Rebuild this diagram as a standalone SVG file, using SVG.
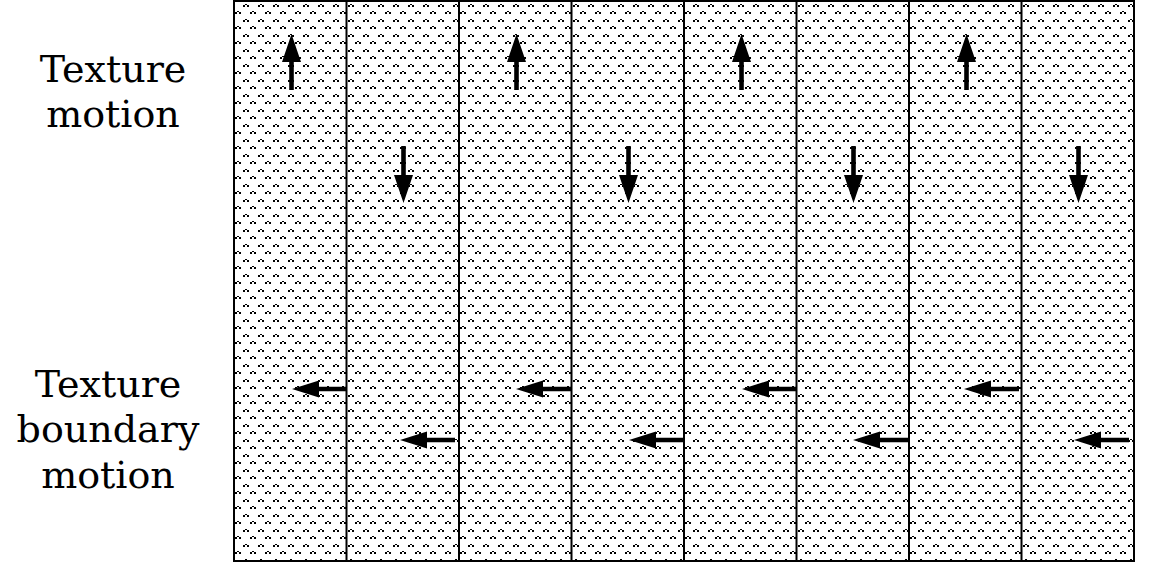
<svg xmlns="http://www.w3.org/2000/svg" width="1156" height="565" viewBox="0 0 1156 565">
  <style>
    .lbl { font-family: "DejaVu Serif", "Liberation Serif", serif; font-size: 38px; fill: #000; text-anchor: middle; }
    .frame { fill: url(#dots); stroke: #000; stroke-width: 2; }
    .div { stroke: #000; stroke-width: 2; }
    .arr { fill: #000; stroke: none; }
  </style>
  <defs>
    <pattern id="dots" patternUnits="userSpaceOnUse" x="234" y="0" width="15" height="15">
      <g fill="#000" shape-rendering="crispEdges">
        <rect x="11" y="4" width="2" height="1"/>
        <rect x="9" y="5" width="2" height="2"/>
        <rect x="13" y="5" width="2" height="2"/>
        <rect x="3" y="11" width="2" height="1"/>
        <rect x="1" y="12" width="2" height="2"/>
        <rect x="5" y="12" width="2" height="2"/>
      </g>
    </pattern>
    <path id="up" d="M -2.3 56 L -2.3 28 L -9.5 28 L 0 0 L 9.5 28 L 2.3 28 L 2.3 56 Z"/>
    <path id="down" d="M -2.3 0 L -2.3 29 L -9.5 29 L 0 57 L 9.5 29 L 2.3 29 L 2.3 0 Z"/>
    <path id="left" d="M 0 0 L 27 -8.5 L 27 -2.3 L 55 -2.3 L 55 2.3 L 27 2.3 L 27 8.5 Z"/>
  </defs>

  <g id="panel">
    <rect class="frame" x="234" y="1" width="900" height="560"/>
  </g>

  <g id="dividers">
    <line class="div" x1="346.5" y1="0" x2="346.5" y2="562"/>
    <line class="div" x1="459" y1="0" x2="459" y2="562"/>
    <line class="div" x1="571.5" y1="0" x2="571.5" y2="562"/>
    <line class="div" x1="684" y1="0" x2="684" y2="562"/>
    <line class="div" x1="796.5" y1="0" x2="796.5" y2="562"/>
    <line class="div" x1="909" y1="0" x2="909" y2="562"/>
    <line class="div" x1="1021.5" y1="0" x2="1021.5" y2="562"/>
  </g>

  <g id="labels">
    <g id="label-texture-motion">
      <text class="lbl" x="113" y="82">Texture</text>
      <text class="lbl" x="113" y="127">motion</text>
    </g>
    <g id="label-boundary-motion">
      <text class="lbl" x="108" y="397">Texture</text>
      <text class="lbl" x="108" y="442">boundary</text>
      <text class="lbl" x="108" y="488">motion</text>
    </g>
  </g>

  <g id="connectors" class="arr">
    <use href="#up" x="291.5" y="34"/>
    <use href="#up" x="516.5" y="34"/>
    <use href="#up" x="741.5" y="34"/>
    <use href="#up" x="966.5" y="34"/>

    <use href="#down" x="403.5" y="146"/>
    <use href="#down" x="628.5" y="146"/>
    <use href="#down" x="853.5" y="146"/>
    <use href="#down" x="1078.5" y="146"/>

    <use href="#left" x="292" y="389"/>
    <use href="#left" x="516" y="389"/>
    <use href="#left" x="742" y="389"/>
    <use href="#left" x="964" y="389"/>

    <use href="#left" x="400" y="440"/>
    <use href="#left" x="629" y="440"/>
    <use href="#left" x="853" y="440"/>
    <use href="#left" x="1074" y="440"/>
  </g>
</svg>
